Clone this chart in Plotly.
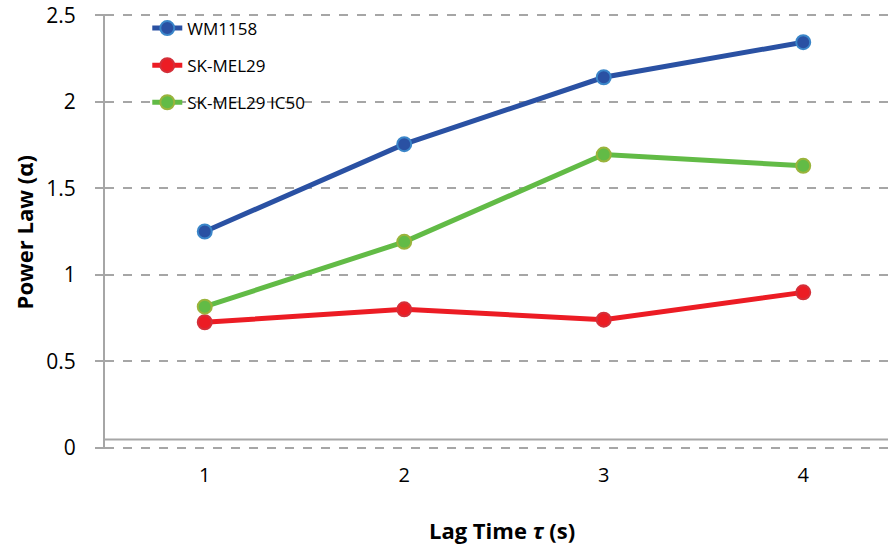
import plotly.graph_objects as go

lag_time = [1, 2, 3, 4]
wm1158 = [1.25, 1.755, 2.142, 2.345]
skmel29 = [0.725, 0.80, 0.74, 0.898]
skmel29_ic50 = [0.815, 1.19, 1.695, 1.63]
y_ticks = [0, 0.5, 1, 1.5, 2, 2.5]
y_tick_text = ["0", "0.5", "1", "1.5", "2", "2.5"]

FONT = "Open Sans"
series = [
    ("WM1158", wm1158, "#2A51A3", "#2A51A3", "#3B86C9"),
    ("SK-MEL29", skmel29, "#EC1C24", "#EC1C24", "#D3303A"),
    ("SK-MEL29 IC50", skmel29_ic50, "#62BB46", "#62BB46", "#9AB43C"),
]

fig = go.Figure()
for i, (name, vals, lc, mc, mb) in enumerate(series):
    fig.add_trace(go.Scatter(
        x=lag_time, y=vals, name=name, mode="lines+markers",
        legendgroup=f"g{i}",
        line=dict(color=lc, width=5),
        marker=dict(size=14, color=mc, line=dict(color=mb, width=2)),
    ))

fig.update_layout(
    width=888, height=545,
    margin=dict(l=105, r=0, t=14, b=96, autoexpand=False),
    paper_bgcolor="white", plot_bgcolor="white",
    font=dict(family=FONT, color="black"),
    showlegend=True,
    legend=dict(
        x=0.054, y=1.008, xanchor="left", yanchor="top",
        font=dict(size=17, family=FONT), bgcolor="rgba(0,0,0,0)",
        tracegroupgap=12,
    ),
    xaxis=dict(
        range=[0.5, 4.425], tickvals=lag_time, ticktext=[str(v) for v in lag_time],
        showgrid=False, zeroline=False, showline=False, automargin=False,
        ticks="outside", ticklen=8, tickcolor="rgba(0,0,0,0)",
        tickfont=dict(size=20, family=FONT),
    ),
    yaxis=dict(
        range=[-0.008, 2.508], tickvals=y_ticks, ticktext=y_tick_text,
        showgrid=True, gridcolor="#A6A6A6", griddash="dash", gridwidth=2,
        zeroline=False, showline=True, linecolor="#A6A6A6", linewidth=2,
        ticks="outside", ticklen=8, tickcolor="#A6A6A6", tickwidth=2,
        ticklabelstandoff=15, ticklabeloverflow="allow",
        tickfont=dict(size=21, family=FONT), automargin=False,
    ),
    annotations=[
        dict(text="<b>Lag Time <i>τ</i> (s)</b>", xref="paper", yref="paper",
             x=0.507, y=-0.186, xanchor="center", yanchor="middle", showarrow=False,
             font=dict(size=22, family=FONT)),
        dict(text="<b>Power Law (α)</b>", xref="paper", yref="paper",
             x=-0.1034, y=0.498, xanchor="center", yanchor="middle", showarrow=False,
             textangle=-90, font=dict(size=22, family=FONT)),
    ],
    shapes=[dict(type="line", xref="paper", yref="paper", x0=0, x1=1,
                 y0=0.0216, y1=0.0216, line=dict(color="#A6A6A6", width=2), layer="below")],
)

fig.write_html(
    "out.html",
    config={"displayModeBar": False},
    post_script="document.body.style.margin='0';document.body.style.overflow='hidden';",
)
